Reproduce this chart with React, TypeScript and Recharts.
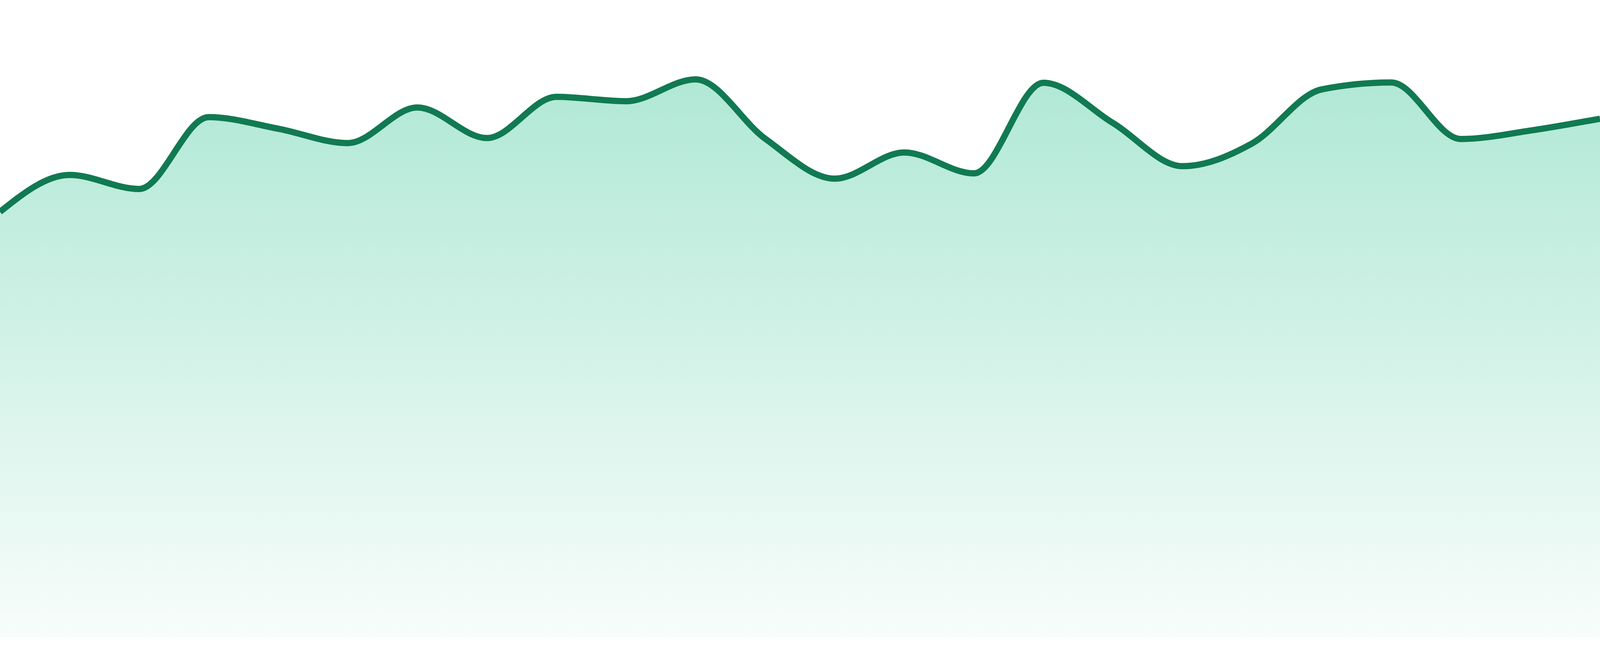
import React from "react";
import { AreaChart, Area, XAxis, YAxis } from "recharts";

const categories = [
  "D01", "D02", "D03", "D04", "D05", "D06", "D07", "D08",
  "D09", "D10", "D11", "D12", "D13", "D14", "D15", "D16",
  "D17", "D18", "D19", "D20", "D21", "D22", "D23", "D24",
];

const values = [
  68.1, 74.0, 71.75, 83.25, 81.4, 79.1, 84.8, 79.9,
  86.5, 85.8, 89.3, 79.8, 73.4, 77.6, 74.25, 88.75,
  82.3, 75.4, 79.05, 87.7, 88.8, 79.75, 81.1, 83.0,
];

const yDomain = [0, 100];

const data = categories.map((name, i) => ({ name, value: values[i] }));

const CHART_HEIGHT = 1680;
const CHART_WIDTH =
  typeof window !== "undefined" && window.innerWidth > 0
    ? Math.min(4800, window.innerWidth)
    : 4800;

export default function App() {
  return (
    <div
      style={{
        position: "absolute",
        left: 0,
        top: 0,
        width: CHART_WIDTH,
        height: CHART_HEIGHT,
        background: "#ffffff",
        overflow: "hidden",
      }}
    >
      <AreaChart
        width={CHART_WIDTH}
        height={CHART_HEIGHT}
        data={data}
        margin={{ top: 32, right: 0, bottom: 48, left: 0 }}
      >
        <defs>
          <linearGradient id="areaFill" x1="0" y1="0" x2="0" y2="1">
            <stop offset="0%" stopColor="#10b981" stopOpacity={0.33} />
            <stop offset="100%" stopColor="#10b981" stopOpacity={0.03} />
          </linearGradient>
        </defs>
        <XAxis dataKey="name" hide padding={{ left: 0, right: 0 }} />
        <YAxis hide domain={yDomain} />
        <Area
          type="monotone"
          dataKey="value"
          stroke="#117a52"
          strokeWidth={16}
          fill="url(#areaFill)"
          fillOpacity={1}
          dot={false}
          activeDot={false}
          isAnimationActive={false}
        />
      </AreaChart>
    </div>
  );
}
